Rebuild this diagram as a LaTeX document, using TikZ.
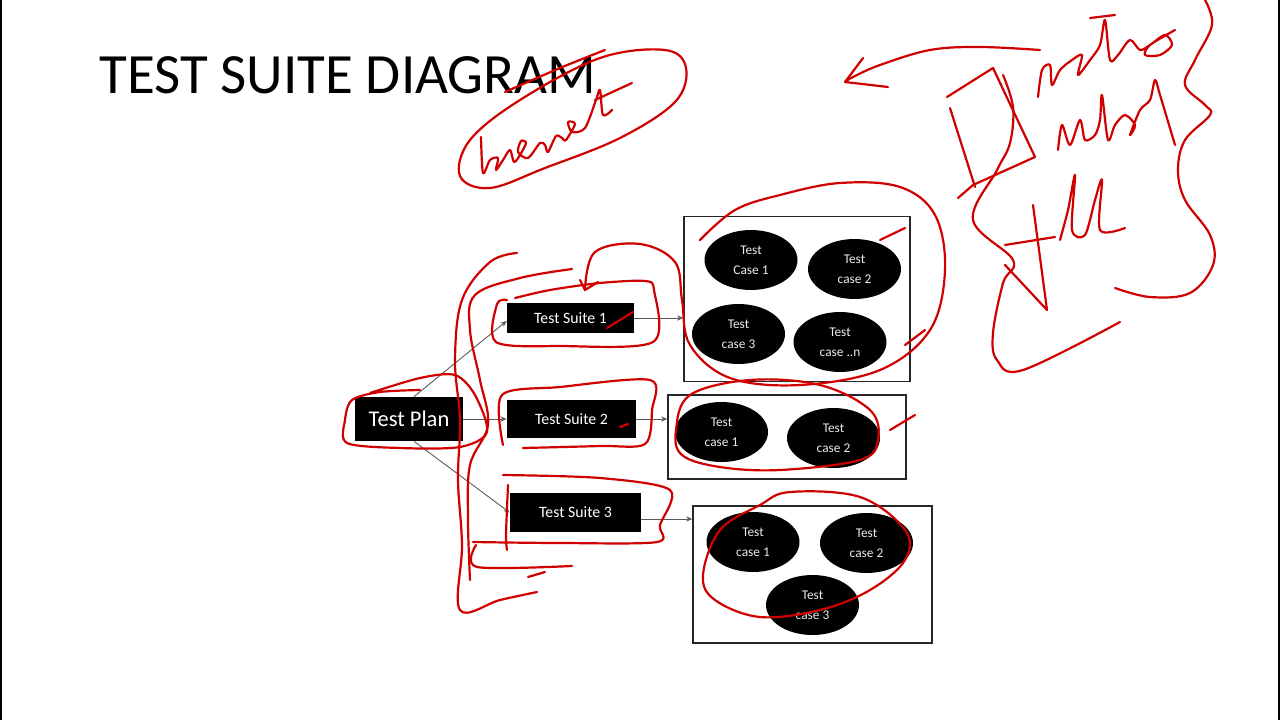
\documentclass[tikz,border=0pt]{standalone}
\usepackage{fontspec}
\setmainfont{Carlito}
\usetikzlibrary{shapes.geometric,arrows.meta}

\tikzset{
	planbox/.style={fill=black, text=white, inner sep=0pt, minimum width=2.16cm, minimum height=0.88cm, font=\fontsize{12.8}{14}\selectfont},
	suitebox/.style={fill=black, text=white, inner sep=0pt, font=\fontsize{9}{10}\selectfont},
	casebox/.style={ellipse, fill=black, text=black!8, inner sep=0pt, minimum width=1.86cm, minimum height=1.2cm, align=center, font=\fontsize{7.6}{11.4}\selectfont},
	groupbox/.style={draw=black!85, line width=0.9pt, inner sep=0pt},
	link/.style={draw=black!65, line width=0.5pt, -{Stealth[length=3.5pt,width=3pt]}},
	ink/.style={draw=red!82!black, line width=1.25pt, line cap=round, line join=round},
}

\begin{document}
\begin{tikzpicture}[x=0.02cm, y=-0.02cm]
		%%%%% START %%%%%
		\useasboundingbox (0,0) rectangle (1280,720);
		\fill[white] (0,0) rectangle (1280,720);
		\draw[line width=1pt] (1,0) -- (1,720);
		\draw[line width=1pt] (1279,0) -- (1279,720);
		
		\node[anchor=base west, inner sep=0pt, font=\fontsize{32.4}{36}\selectfont] (title) at (99,93) {TEST SUITE DIAGRAM};
		
		\node[planbox] (plan) at (409,419) {Test Plan};
		\node[suitebox, minimum width=2.54cm, minimum height=0.6cm] (ts1) at (570.5,318) {Test Suite 1};
		\node[suitebox, minimum width=2.58cm, minimum height=0.76cm] (ts2) at (571.5,419) {Test Suite 2};
		\node[suitebox, minimum width=2.62cm, minimum height=0.78cm] (ts3) at (575.5,512.5) {Test Suite 3};
		
		\node[groupbox, minimum width=4.52cm, minimum height=3.3cm] (grp1) at (797,299) {};
		\node[groupbox, minimum width=4.76cm, minimum height=1.68cm] (grp2) at (787,437) {};
		\node[groupbox, minimum width=4.78cm, minimum height=2.74cm] (grp3) at (812.5,574.5) {};
		
		\node[casebox] (c11) at (751,260) {Test\\Case 1};
		\node[casebox] (c12) at (854.5,269) {Test\\case 2};
		\node[casebox] (c13) at (738.5,334) {Test\\case 3};
		\node[casebox] (c1n) at (840,342) {Test\\case ..n};
		\node[casebox] (c21) at (721.5,432) {Test\\case 1};
		\node[casebox] (c22) at (833.5,438) {Test\\case 2};
		\node[casebox] (c31) at (753,542) {Test\\case 1};
		\node[casebox] (c32) at (866.5,543) {Test\\case 2};
		\node[casebox] (c33) at (812.5,605) {Test\\case 3};
		
		\draw[link] ([xshift=0.1cm]plan.north) -- ([yshift=-0.06cm]ts1.west);
		\draw[link] (plan.east) -- (ts2.west);
		\draw[link] ([xshift=0.1cm]plan.south) -- (ts3.west);
		\draw[link] (ts1.east) -- (ts1.east -| grp1.west);
		\draw[link] (ts2.east) -- (ts2.east -| grp2.west);
		\draw[link] ([yshift=-0.13cm]ts3.east) -- ([yshift=-0.13cm]ts3.east -| grp3.west);
		
		% red pen over the slide
		\draw[ink] plot[smooth cycle, tension=0.6] coordinates {(470,140)(520,100)(600,58)(665,50)(686,68)(675,102)(620,138)(545,168)(490,188)(460,176)};
		\draw[ink] plot[smooth, tension=0.5] coordinates {(505,92)(560,68)(605,50)};
		\draw[ink] plot[smooth, tension=0.5] coordinates {(481,137)(483,173)(490,160)(498,158)(496,170)(503,160)(510,150)(514,162)(520,155)(526,143)(521,141)(518,152)(528,158)(540,143)(545,145)(548,152)(556,136)(562,138)(566,140)(575,124)(568,122)(572,132)(585,128)(596,100)(600,90)(603,115)(612,110)};
		\draw[ink] (595,100) -- (632,83);
		
		\draw[ink] plot[smooth, tension=0.6] coordinates {(1040,50)(980,47)(930,50)(880,65)(853,77)(845,82)};
		\draw[ink] (863,58) -- (845,82) -- (888,87);
		\draw[ink] (958,198) -- (973,185) -- (1035,157) -- (993,68) -- (947,97);
		\draw[ink] (950,108) -- (975,187);
		\draw[ink] plot[smooth, tension=0.6] coordinates {(1003,75)(1013,107)(1010,143)(997,170)(973,220)(1013,260)(1003,283)(993,333)(997,360)(1023,370)(1120,322)};
		\draw[ink] plot[smooth, tension=0.5] coordinates {(1038,97)(1042,70)(1050,65)(1052,85)(1060,70)(1072,60)(1082,55)(1078,75)(1090,60)(1100,45)(1105,20)(1110,60)(1118,55)(1130,40)(1140,50)(1150,45)(1165,35)(1172,45)(1160,55)(1145,55)(1150,45)(1175,30)};
		\draw[ink] (1090,18) -- (1115,15);
		\draw[ink] plot[smooth, tension=0.5] coordinates {(1058,150)(1062,125)(1070,145)(1080,120)(1085,140)(1095,135)(1100,120)(1102,95)(1108,140)(1115,125)(1125,115)(1135,125)(1130,135)(1140,110)(1150,100)(1155,80)(1160,95)(1175,145)};
		\draw[ink] (1033,205) -- (1047,310) -- (1005,265);
		\draw[ink] (1005,245) -- (1055,237);
		\draw[ink] plot[smooth, tension=0.5] coordinates {(1060,240)(1068,210)(1075,175)(1072,230)(1085,235)(1095,200)(1102,180)(1100,230)(1125,228)};
		\draw[ink] plot[smooth, tension=0.6] coordinates {(1205,0)(1212,25)(1195,60)(1185,85)(1205,105)(1210,115)(1185,140)(1178,170)(1185,200)(1210,235)(1213,265)(1190,293)(1150,297)(1115,288)};
		
		\draw[ink] plot[smooth, tension=0.6] coordinates {(585,290)(595,252)(640,244)(675,262)(682,300)(690,345)(730,378)(800,385)(880,370)(930,330)(945,270)(935,215)(900,187)(840,183)(780,195)(735,210)(700,240)};
		\draw[ink] (580,280) -- (585,290) -- (598,282);
		\draw[ink] (880,240) -- (905,228);
		\draw[ink] (905,345) -- (925,330);
		
		\draw[ink] plot[smooth, tension=0.5] coordinates {(507,300)(497,304)(496,342)(560,346)(653,342)(654,290)(645,281)(600,283)(550,290)(515,298)};
		\draw[ink] (607,328) -- (633,312);
		\draw[ink] plot[smooth, tension=0.5] coordinates {(370,393)(420,378)(455,375)(475,395)(487,432)(460,447)(400,448)(347,443)(345,420)(352,400)(380,392)(420,390)};
		\draw[ink] plot[smooth, tension=0.5] coordinates {(503,445)(502,395)(560,387)(650,380)(652,410)(645,444)(600,446)(523,448)};
		\draw[ink] (620,427) -- (628,424);
		\draw[ink] plot[smooth, tension=0.5] coordinates {(503,475)(600,478)(670,490)(660,525)(657,542)(560,543)(473,542)};
		\draw[ink] plot[smooth, tension=0.5] coordinates {(508,485)(506,535)(507,550)};
		\draw[ink] plot[smooth, tension=0.5] coordinates {(476,545)(477,567)(572,566)};
		\draw[ink] (528,577) -- (545,572);
		
		\draw[ink] plot[smooth, tension=0.6] coordinates {(517,253)(490,262)(462,300)(455,360)(460,420)(458,480)(462,545)(460,610)(500,600)(537,592)};
		\draw[ink] plot[smooth, tension=0.6] coordinates {(572,269)(520,278)(475,295)(470,330)(480,380)(488,425)(470,465)(468,520)(470,580)};
		
		\draw[ink] plot[smooth cycle, tension=0.6] coordinates {(676,430)(690,395)(750,380)(820,385)(870,410)(878,440)(860,460)(780,470)(720,467)(682,455)};
		\draw[ink] (890,430) -- (915,415);
		\draw[ink] plot[smooth cycle, tension=0.6] coordinates {(790,492)(860,497)(905,530)(905,560)(870,590)(820,610)(760,617)(715,600)(703,575)(720,530)(760,505)};
		
		%%%%% END %%%%%
\end{tikzpicture}
\end{document}
